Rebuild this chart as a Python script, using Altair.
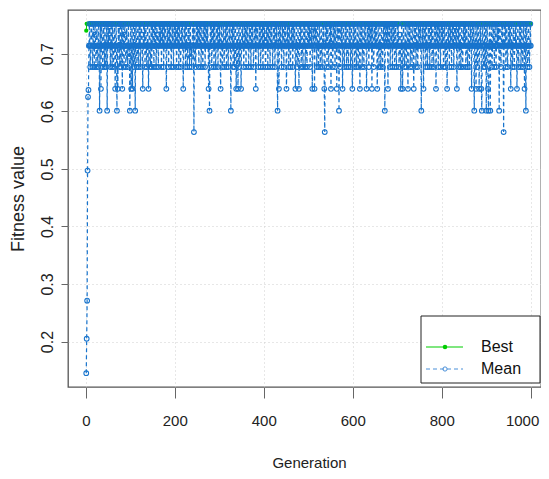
import altair as alt
import pandas as pd

# ---- data ----
X_TICKS = [0, 200, 400, 600, 800, 1000]
Y_TICKS = [0.2, 0.3, 0.4, 0.5, 0.6, 0.7]

# best fitness: value at generation 1, then the level it holds from generation 2 on
BEST_STEPS = [(1, 0.740), (2, 0.752)]

# mean fitness of the first six generations
EARLY_MEAN = [0.145, 0.205, 0.271, 0.497, 0.625, 0.637]

# discrete levels the mean fitness takes afterwards
LEVELS = {"0": 0.752, "1": 0.733, "2": 0.714, "3": 0.695,
          "4": 0.677, "6": 0.639, "8": 0.601, "a": 0.564}

# one line = 50 generations, read as level codes ('x' = early value above)
MEAN_CODES = [
    "xxxxxx2024 2002420241 0242024202 8206202420 2402420820",
    "2020420240 2420262028 2602042042 0620241024 2024203282",
    "0620620420 8202420240 2042012620 2042024202 6202420420",
    "2042020420 2142020204 2020420202 6202042020 2420204202",
    "0204202042 0242020262 0204202420 2042032420 20a2024202",
    "0204202042 0242020420 2020262820 2042020420 2420204202",
    "0262024202 4202042024 2020282020 4204202620 2620420262",
    "0202420204 2020242020 4202024202 0620202420 2042020420",
    "2024202042 0204202024 2020420202 8206202024 2020420202",
    "6202042024 2020420202 6202420262 0204202420 2042024202",
    "0204202062 0206202042 0242024202 420206a202 0420242020",
    "6202420204 2026202082 0420206202 4202042024 2020420262",
    "0204202420 2420262020 4202420202 6202042020 2062024202",
    "0202620242 0242024202 0820202062 0204202042 0204202420",
    "2024212620 2620242024 2026202042 0242026202 0420242020",
    "2028202062 0204202420 2042020420 2420206202 0420204202",
    "0204202420 2620204202 0420204202 0206202042 0242024202",
    "0204202420 2420206202 0282026204 2026202068 2024204208",
    "2026820282 0242020420 2420202082 02420202a2 0204202420",
    "2020620242 0242020262 0242020420 2420262082 0242024202",
]

LEGEND_LABELS = ["Best", "Mean"]

# ---- build table ----
codes = "".join(line.replace(" ", "") for line in MEAN_CODES)
mean_vals = []
for i, c in enumerate(codes):
    mean_vals.append(EARLY_MEAN[i] if c == "x" else LEVELS[c])
n = len(mean_vals)
gens = list(range(1, n + 1))
best_vals = []
cur = BEST_STEPS[0][1]
steps = dict(BEST_STEPS)
for g in gens:
    if g in steps:
        cur = steps[g]
    best_vals.append(cur)

df = pd.DataFrame({"generation": gens, "best": best_vals, "mean": mean_vals})

GREEN = "#00CD00"
BLUE = "#1874CD"
FONT = "Liberation Sans"

W, H = 473, 377

xs = alt.Scale(domain=[-40, 1023], nice=False, zero=False)
ys = alt.Scale(domain=[0.121, 0.776], nice=False, zero=False)

x_axis = alt.Axis(values=X_TICKS, title="Generation", format="d",
                  tickSize=11, tickColor="#666", domain=False,
                  labelFont=FONT, labelFontSize=15, labelColor="#222",
                  labelPadding=15,
                  labelAlign={"condition": {"test": "datum.value >= 1000", "value": "right"},
                              "value": "center"},
                  labelOffset={"condition": {"test": "datum.value >= 1000", "value": 8},
                               "value": 0},
                  titleFont=FONT, titleFontSize=15, titleFontWeight="normal",
                  titleColor="#222", titleX=241, titleY=83,
                  titleBaseline="bottom", titleAlign="center",
                  grid=True, gridColor="#cfcfcf", gridDash=[1, 3])
y_axis = alt.Axis(values=Y_TICKS, title="Fitness value", format=".1f",
                  tickSize=7, tickColor="#666", domain=False,
                  labelFont=FONT, labelFontSize=16, labelColor="#222",
                  labelAngle=270, labelAlign="center", labelBaseline="bottom",
                  labelPadding=6,
                  titleFont=FONT, titleFontSize=18, titleFontWeight="normal",
                  titleColor="#222", titleAngle=270, titleX=-45, titleY=H / 2,
                  titleAlign="center", titleBaseline="alphabetic",
                  grid=True, gridColor="#cfcfcf", gridDash=[1, 3])

base = alt.Chart(df)
X = alt.X("generation:Q", scale=xs, axis=x_axis)

best_line = base.mark_line(color=GREEN, strokeWidth=1).encode(
    x=X, y=alt.Y("best:Q", scale=ys, axis=y_axis))
best_pts = base.mark_point(color=GREEN, filled=True, size=18, opacity=1).encode(
    x=X, y=alt.Y("best:Q", scale=ys, axis=y_axis))
mean_line = base.mark_line(color=BLUE, strokeWidth=1.2, strokeDash=[4, 3]).encode(
    x=X, y=alt.Y("mean:Q", scale=ys, axis=y_axis))
mean_pts = base.mark_point(color=BLUE, filled=False, size=22, strokeWidth=1.1, opacity=1).encode(
    x=X, y=alt.Y("mean:Q", scale=ys, axis=y_axis))

# ---- legend box ----
one = alt.Chart(pd.DataFrame({"k": [0]}))
leg_box = one.mark_rect(fill="white", stroke="#222", strokeWidth=1).encode(
    x=alt.value(353), x2=alt.value(472), y=alt.value(306), y2=alt.value(373))
leg_best_line = one.mark_rule(color=GREEN, strokeWidth=1.2).encode(
    x=alt.value(358), x2=alt.value(395), y=alt.value(337))
leg_best_pt = one.mark_point(color=GREEN, filled=True, size=20, opacity=1).encode(
    x=alt.value(377), y=alt.value(337))
leg_mean_line = one.mark_rule(color="#4a90d9", strokeWidth=1, strokeDash=[4, 3]).encode(
    x=alt.value(358), x2=alt.value(395), y=alt.value(359))
leg_mean_pt = one.mark_point(color="#4a90d9", filled=False, size=18, strokeWidth=1, opacity=1).encode(
    x=alt.value(377), y=alt.value(359))
leg_t1 = one.mark_text(align="left", baseline="middle", font=FONT, fontSize=16, color="#111").encode(
    x=alt.value(413), y=alt.value(337), text=alt.value(LEGEND_LABELS[0]))
leg_t2 = one.mark_text(align="left", baseline="middle", font=FONT, fontSize=16, color="#111").encode(
    x=alt.value(413), y=alt.value(359), text=alt.value(LEGEND_LABELS[1]))

chart = alt.layer(
    best_line, best_pts, mean_line, mean_pts,
    leg_box, leg_best_line, leg_best_pt, leg_mean_line, leg_mean_pt, leg_t1, leg_t2,
).properties(
    width=W, height=H,
    autosize=alt.AutoSizeParams(type="none"),
    padding={"left": 60, "top": 2, "right": 0, "bottom": 84},
).configure_view(stroke="#555", strokeWidth=1.3)

chart.save("out.html", embed_options={"renderer": "svg", "actions": False})
